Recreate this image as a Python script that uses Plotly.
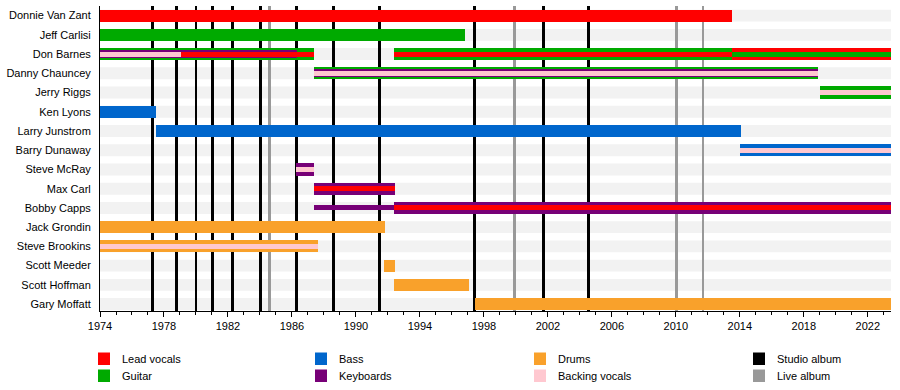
import plotly.graph_objects as go

# ---------------- data ----------------
members = ["Donnie Van Zant", "Jeff Carlisi", "Don Barnes", "Danny Chauncey",
           "Jerry Riggs", "Ken Lyons", "Larry Junstrom", "Barry Dunaway",
           "Steve McRay", "Max Carl", "Bobby Capps", "Jack Grondin",
           "Steve Brookins", "Scott Meeder", "Scott Hoffman", "Gary Moffatt"]

END = 2023.45

# primary role (full-width bar): (member, role, start, end)
primary = [
    ("Donnie Van Zant", "Lead vocals", 1974.0, 2013.5),
    ("Jeff Carlisi", "Guitar", 1974.0, 1996.8),
    ("Don Barnes", "Guitar", 1974.0, 1987.4),
    ("Don Barnes", "Guitar", 1992.4, 2013.5),
    ("Don Barnes", "Lead vocals", 2013.5, END),
    ("Danny Chauncey", "Guitar", 1987.4, 2018.9),
    ("Jerry Riggs", "Guitar", 2019.0, END),
    ("Ken Lyons", "Bass", 1974.0, 1977.5),
    ("Larry Junstrom", "Bass", 1977.5, 2014.05),
    ("Barry Dunaway", "Bass", 2014.0, END),
    ("Steve McRay", "Keyboards", 1986.25, 1987.4),
    ("Max Carl", "Keyboards", 1987.4, 1992.45),
    ("Bobby Capps", "Keyboards", 1992.4, END),
    ("Jack Grondin", "Drums", 1974.0, 1991.8),
    ("Steve Brookins", "Drums", 1974.0, 1987.65),
    ("Scott Meeder", "Drums", 1991.75, 1992.45),
    ("Scott Hoffman", "Drums", 1992.4, 1997.05),
    ("Gary Moffatt", "Drums", 1997.45, END),
]

# secondary role (middle band)
secondary = [
    ("Don Barnes", "Keyboards", 1974.0, 1986.3),
    ("Danny Chauncey", "Keyboards", 1987.4, 2018.9),
]

# tertiary role (centre stripe)
tertiary = [
    ("Don Barnes", "Backing vocals", 1974.0, 1979.05),
    ("Don Barnes", "Lead vocals", 1979.05, 1987.4),
    ("Don Barnes", "Lead vocals", 1992.4, 2013.5),
    ("Don Barnes", "Guitar", 2013.5, END),
    ("Danny Chauncey", "Backing vocals", 1987.4, 2018.9),
    ("Jerry Riggs", "Backing vocals", 2019.0, END),
    ("Barry Dunaway", "Backing vocals", 2014.0, END),
    ("Steve McRay", "Backing vocals", 1986.25, 1987.4),
    ("Max Carl", "Lead vocals", 1987.4, 1992.45),
    ("Bobby Capps", "Keyboards", 1987.4, 1992.4),
    ("Bobby Capps", "Lead vocals", 1992.4, END),
    ("Steve Brookins", "Backing vocals", 1974.0, 1987.65),
]

studio_albums = [1977.3, 1978.8, 1980.0, 1981.05, 1982.3, 1984.05, 1986.3,
                 1988.6, 1991.5, 1997.4, 2001.75, 2004.55]
live_albums = [1984.6, 1999.9, 2010.05, 2011.7]

role_colors = {
    "Lead vocals": "#FF0000",
    "Guitar": "#00AA00",
    "Bass": "#0066CC",
    "Keyboards": "#770077",
    "Drums": "#F9A12B",
    "Backing vocals": "#FFC8D0",
    "Studio album": "#000000",
    "Live album": "#999999",
}
legend_columns = [["Lead vocals", "Guitar"], ["Bass", "Keyboards"],
                  ["Drums", "Backing vocals"], ["Studio album", "Live album"]]

# ---------------- figure ----------------
FONT = "Liberation Sans, Arial, sans-serif"
idx = {m: i for i, m in enumerate(members)}
X_RANGE = [1974, END]
Y_RANGE = [15.36, -0.5]
fig = go.Figure()

# album lines on the base axes (x, y)
for dates, kind in ((studio_albums, "Studio album"), (live_albums, "Live album")):
    fig.add_trace(go.Bar(
        orientation="v", x=dates, y=[Y_RANGE[0] - Y_RANGE[1]] * len(dates),
        base=[Y_RANGE[1]] * len(dates), width=0.18, opacity=1,
        marker=dict(color=role_colors[kind], line=dict(width=0)),
        xaxis="x", yaxis="y", showlegend=False, hoverinfo="skip"))

# member bars on overlaying axes (x2, y2) => drawn above the album lines
def add_layer(periods, width):
    for m, role, s, e in periods:
        fig.add_trace(go.Bar(
            orientation="h", y=[idx[m]], x=[e - s], base=[s], width=width, opacity=1,
            marker=dict(color=role_colors[role], line=dict(width=0)),
            xaxis="x2", yaxis="y2", showlegend=False, hoverinfo="skip"))

add_layer(primary, 0.63)
add_layer(secondary, 0.42)
add_layer(tertiary, 0.26)

shapes = []
# row background bands
for i in range(len(members)):
    shapes.append(dict(type="rect", xref="x", x0=X_RANGE[0], x1=X_RANGE[1], yref="y",
                       y0=i - 0.31, y1=i + 0.31, fillcolor="#F2F2F2",
                       line=dict(width=0), layer="below"))

# legend (pixel layout -> paper coords)
PL, PR, PT, PB = 100, 891, 6, 311
def px(x): return (x - PL) / (PR - PL)
def py(y): return (PB - y) / (PB - PT)

annotations = []
col_x = [98, 315, 534, 753]
row_y = [352.5, 369.5]
for c, items in enumerate(legend_columns):
    for r, name in enumerate(items):
        x0 = col_x[c]; y0 = row_y[r]
        shapes.append(dict(type="rect", xref="paper", yref="paper",
                           x0=px(x0), x1=px(x0 + 12), y0=py(y0 + 12.5), y1=py(y0),
                           fillcolor=role_colors[name], line=dict(width=0)))
        annotations.append(dict(xref="paper", yref="paper", x=px(x0 + 22), y=py(y0 + 6.5),
                                text=name, showarrow=False, xanchor="left", yanchor="middle",
                                font=dict(family=FONT, size=11, color="#000")))

fig.update_layout(
    width=900, height=390,
    margin=dict(l=PL, r=900 - PR, t=PT, b=390 - PB, autoexpand=False),
    barmode="overlay", bargap=0,
    plot_bgcolor="white", paper_bgcolor="white",
    shapes=shapes, annotations=annotations, showlegend=False,
    font=dict(family=FONT, size=11, color="#000"),
    xaxis=dict(range=X_RANGE, tick0=1974, dtick=4, ticks="outside", ticklen=5,
               tickcolor="black", showgrid=False, zeroline=False, showline=True,
               linecolor="black", linewidth=1, tickfont=dict(size=11), automargin=False,
               minor=dict(dtick=1, ticks="outside", ticklen=3, tickcolor="black")),
    yaxis=dict(range=Y_RANGE, tickvals=list(range(len(members))), ticktext=members,
               showgrid=False, zeroline=False, showline=True, linecolor="black",
               linewidth=1, ticks="", ticklabelstandoff=6, tickfont=dict(size=11),
               automargin=False),
    xaxis2=dict(range=X_RANGE, overlaying="x", visible=False, showgrid=False,
                zeroline=False, automargin=False),
    yaxis2=dict(range=Y_RANGE, overlaying="y", visible=False, showgrid=False,
                zeroline=False, automargin=False),
)

fig.write_html("out.html", config={"displayModeBar": False},
               post_script="document.body.style.margin='0';document.body.style.padding='0';")
